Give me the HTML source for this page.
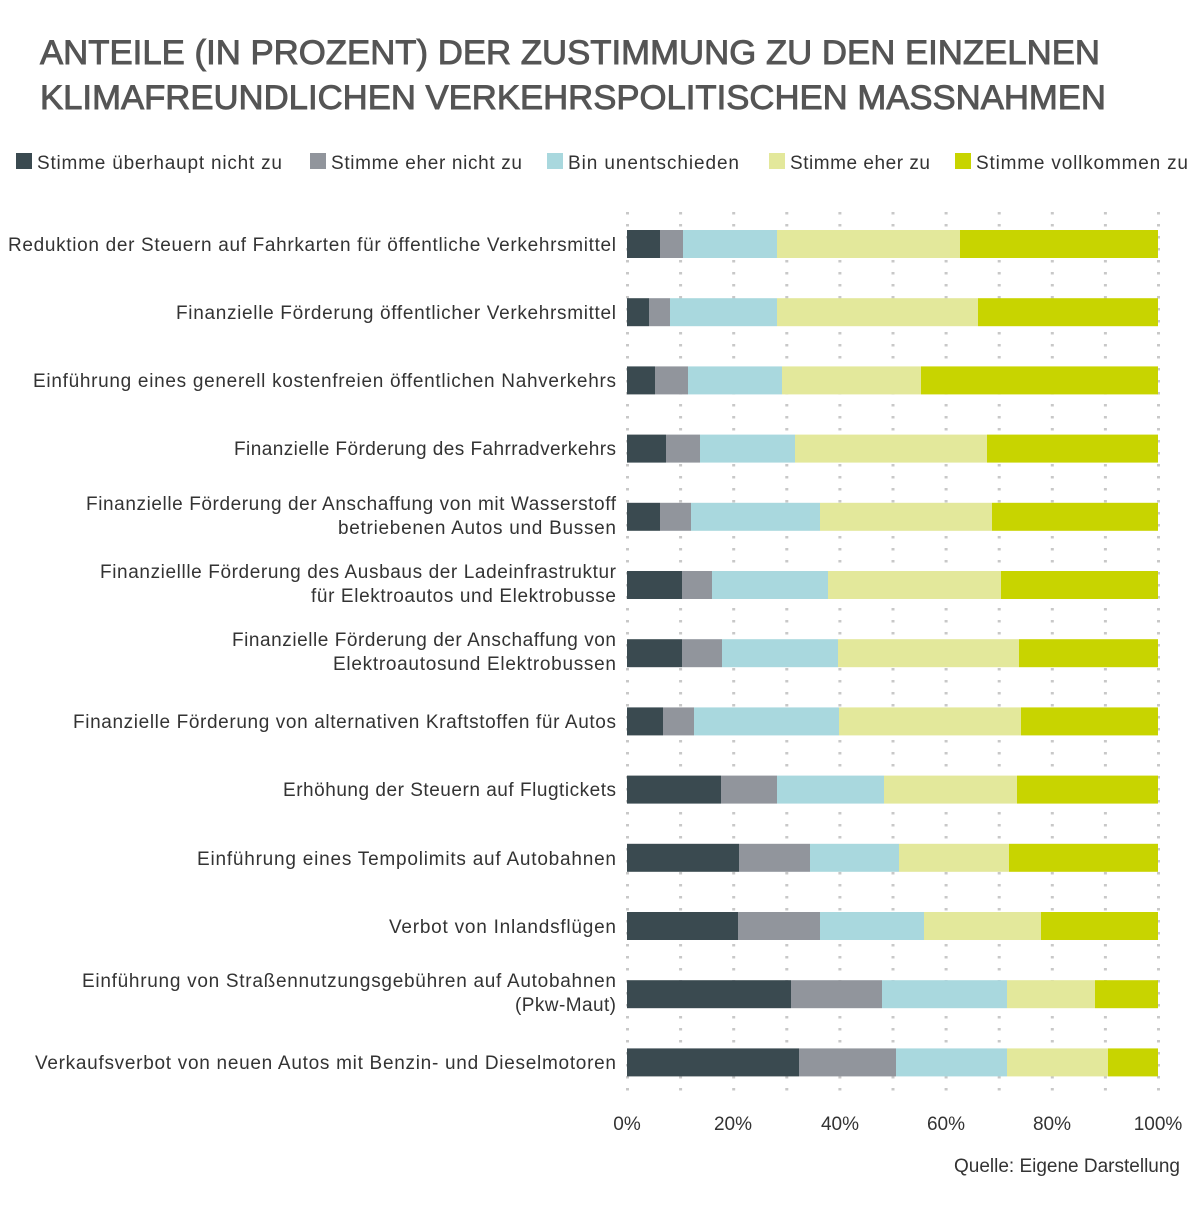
<!DOCTYPE html>
<html><head><meta charset="utf-8"><style>
body{margin:0;background:#fff;}
svg text{font-family:"Liberation Sans",sans-serif;}
</style></head><body>
<svg width="1200" height="1200" viewBox="0 0 1200 1200" xmlns="http://www.w3.org/2000/svg">
<rect width="1200" height="1200" fill="#fff"/>
<text x="40" y="64" font-size="34" fill="#555" stroke="#555" stroke-width="0.9" textLength="1060" lengthAdjust="spacingAndGlyphs">ANTEILE (IN PROZENT) DER ZUSTIMMUNG ZU DEN EINZELNEN</text>
<text x="40" y="109" font-size="34" fill="#555" stroke="#555" stroke-width="0.9" textLength="1066" lengthAdjust="spacingAndGlyphs">KLIMAFREUNDLICHEN VERKEHRSPOLITISCHEN MASSNAHMEN</text>
<g font-size="19" fill="#333" lengthAdjust="spacingAndGlyphs">
<rect x="16" y="153" width="16" height="16" fill="#3a4a50"/><text x="37" y="169" textLength="245">Stimme überhaupt nicht zu</text>
<rect x="310" y="153" width="16" height="16" fill="#91959c"/><text x="331" y="169" textLength="191">Stimme eher nicht zu</text>
<rect x="547" y="153" width="16" height="16" fill="#a9d8de"/><text x="568" y="169" textLength="171">Bin unentschieden</text>
<rect x="769" y="153" width="16" height="16" fill="#e3e89b"/><text x="790" y="169" textLength="140">Stimme eher zu</text>
<rect x="955" y="153" width="16" height="16" fill="#c8d400"/><text x="976" y="169" textLength="212">Stimme vollkommen zu</text>
</g>
<g stroke="#c8c8c8" stroke-width="3" stroke-dasharray="2.5 9.5">
<line x1="627.5" y1="212" x2="627.5" y2="1100"/><line x1="680.6" y1="212" x2="680.6" y2="1100"/><line x1="733.7" y1="212" x2="733.7" y2="1100"/><line x1="786.8" y1="212" x2="786.8" y2="1100"/><line x1="839.9" y1="212" x2="839.9" y2="1100"/><line x1="893" y1="212" x2="893" y2="1100"/><line x1="946.1" y1="212" x2="946.1" y2="1100"/><line x1="999.2" y1="212" x2="999.2" y2="1100"/><line x1="1052.3" y1="212" x2="1052.3" y2="1100"/><line x1="1105.4" y1="212" x2="1105.4" y2="1100"/><line x1="1158.5" y1="212" x2="1158.5" y2="1100"/>
</g>
<g>
<rect x="627" y="230" width="33" height="28" fill="#3a4a50"/><rect x="660" y="230" width="23" height="28" fill="#91959c"/><rect x="683" y="230" width="94" height="28" fill="#a9d8de"/><rect x="777" y="230" width="183" height="28" fill="#e3e89b"/><rect x="960" y="230" width="198" height="28" fill="#c8d400"/>
<rect x="627" y="298.2" width="22" height="28" fill="#3a4a50"/><rect x="649" y="298.2" width="21" height="28" fill="#91959c"/><rect x="670" y="298.2" width="107" height="28" fill="#a9d8de"/><rect x="777" y="298.2" width="201" height="28" fill="#e3e89b"/><rect x="978" y="298.2" width="180" height="28" fill="#c8d400"/>
<rect x="627" y="366.4" width="28" height="28" fill="#3a4a50"/><rect x="655" y="366.4" width="33" height="28" fill="#91959c"/><rect x="688" y="366.4" width="94" height="28" fill="#a9d8de"/><rect x="782" y="366.4" width="139" height="28" fill="#e3e89b"/><rect x="921" y="366.4" width="237" height="28" fill="#c8d400"/>
<rect x="627" y="434.6" width="39" height="28" fill="#3a4a50"/><rect x="666" y="434.6" width="34" height="28" fill="#91959c"/><rect x="700" y="434.6" width="95" height="28" fill="#a9d8de"/><rect x="795" y="434.6" width="192" height="28" fill="#e3e89b"/><rect x="987" y="434.6" width="171" height="28" fill="#c8d400"/>
<rect x="627" y="502.8" width="33" height="28" fill="#3a4a50"/><rect x="660" y="502.8" width="31" height="28" fill="#91959c"/><rect x="691" y="502.8" width="129" height="28" fill="#a9d8de"/><rect x="820" y="502.8" width="172" height="28" fill="#e3e89b"/><rect x="992" y="502.8" width="166" height="28" fill="#c8d400"/>
<rect x="627" y="571" width="55" height="28" fill="#3a4a50"/><rect x="682" y="571" width="30" height="28" fill="#91959c"/><rect x="712" y="571" width="116" height="28" fill="#a9d8de"/><rect x="828" y="571" width="173" height="28" fill="#e3e89b"/><rect x="1001" y="571" width="157" height="28" fill="#c8d400"/>
<rect x="627" y="639.2" width="55" height="28" fill="#3a4a50"/><rect x="682" y="639.2" width="40" height="28" fill="#91959c"/><rect x="722" y="639.2" width="116" height="28" fill="#a9d8de"/><rect x="838" y="639.2" width="181" height="28" fill="#e3e89b"/><rect x="1019" y="639.2" width="139" height="28" fill="#c8d400"/>
<rect x="627" y="707.4" width="36" height="28" fill="#3a4a50"/><rect x="663" y="707.4" width="31" height="28" fill="#91959c"/><rect x="694" y="707.4" width="145" height="28" fill="#a9d8de"/><rect x="839" y="707.4" width="182" height="28" fill="#e3e89b"/><rect x="1021" y="707.4" width="137" height="28" fill="#c8d400"/>
<rect x="627" y="775.6" width="94" height="28" fill="#3a4a50"/><rect x="721" y="775.6" width="56" height="28" fill="#91959c"/><rect x="777" y="775.6" width="107" height="28" fill="#a9d8de"/><rect x="884" y="775.6" width="133" height="28" fill="#e3e89b"/><rect x="1017" y="775.6" width="141" height="28" fill="#c8d400"/>
<rect x="627" y="843.8" width="112" height="28" fill="#3a4a50"/><rect x="739" y="843.8" width="71" height="28" fill="#91959c"/><rect x="810" y="843.8" width="89" height="28" fill="#a9d8de"/><rect x="899" y="843.8" width="110" height="28" fill="#e3e89b"/><rect x="1009" y="843.8" width="149" height="28" fill="#c8d400"/>
<rect x="627" y="912" width="111" height="28" fill="#3a4a50"/><rect x="738" y="912" width="82" height="28" fill="#91959c"/><rect x="820" y="912" width="104" height="28" fill="#a9d8de"/><rect x="924" y="912" width="117" height="28" fill="#e3e89b"/><rect x="1041" y="912" width="117" height="28" fill="#c8d400"/>
<rect x="627" y="980.2" width="164" height="28" fill="#3a4a50"/><rect x="791" y="980.2" width="91" height="28" fill="#91959c"/><rect x="882" y="980.2" width="125" height="28" fill="#a9d8de"/><rect x="1007" y="980.2" width="88" height="28" fill="#e3e89b"/><rect x="1095" y="980.2" width="63" height="28" fill="#c8d400"/>
<rect x="627" y="1048.4" width="172" height="28" fill="#3a4a50"/><rect x="799" y="1048.4" width="97" height="28" fill="#91959c"/><rect x="896" y="1048.4" width="111" height="28" fill="#a9d8de"/><rect x="1007" y="1048.4" width="101" height="28" fill="#e3e89b"/><rect x="1108" y="1048.4" width="50" height="28" fill="#c8d400"/>
</g>
<g font-size="19" fill="#333" text-anchor="end" lengthAdjust="spacingAndGlyphs">
<text x="616" y="251" textLength="608">Reduktion der Steuern auf Fahrkarten für öffentliche Verkehrsmittel</text>
<text x="616" y="319" textLength="440">Finanzielle Förderung öffentlicher Verkehrsmittel</text>
<text x="616" y="387" textLength="583">Einführung eines generell kostenfreien öffentlichen Nahverkehrs</text>
<text x="616" y="455" textLength="382">Finanzielle Förderung des Fahrradverkehrs</text>
<text x="616" y="510" textLength="530">Finanzielle Förderung der Anschaffung von mit Wasserstoff</text>
<text x="616" y="534" textLength="278">betriebenen Autos und Bussen</text>
<text x="616" y="578" textLength="516">Finanziellle Förderung des Ausbaus der Ladeinfrastruktur</text>
<text x="616" y="602" textLength="305">für Elektroautos und Elektrobusse</text>
<text x="616" y="646" textLength="384">Finanzielle Förderung der Anschaffung von</text>
<text x="616" y="670" textLength="283">Elektroautosund Elektrobussen</text>
<text x="616" y="728" textLength="543">Finanzielle Förderung von alternativen Kraftstoffen für Autos</text>
<text x="616" y="796" textLength="333">Erhöhung der Steuern auf Flugtickets</text>
<text x="616" y="865" textLength="419">Einführung eines Tempolimits auf Autobahnen</text>
<text x="616" y="933" textLength="227">Verbot von Inlandsflügen</text>
<text x="616" y="987" textLength="534">Einführung von Straßennutzungsgebühren auf Autobahnen</text>
<text x="616" y="1011" textLength="101">(Pkw-Maut)</text>
<text x="616" y="1069" textLength="581">Verkaufsverbot von neuen Autos mit Benzin- und Dieselmotoren</text>
</g>
<g font-size="19" fill="#333" text-anchor="middle">
<text x="627" y="1130">0%</text><text x="733" y="1130">20%</text><text x="840" y="1130">40%</text><text x="946" y="1130">60%</text><text x="1052" y="1130">80%</text><text x="1158" y="1130">100%</text>
</g>
<text x="1180" y="1172" font-size="19" fill="#333" text-anchor="end">Quelle: Eigene Darstellung</text>
</svg>
</body></html>
